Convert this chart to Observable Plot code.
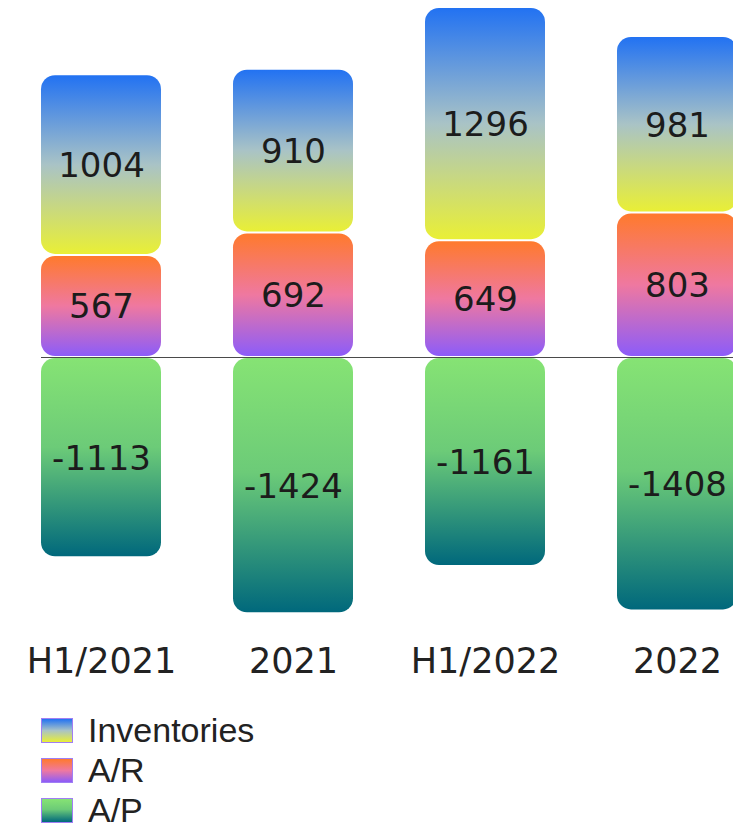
<!DOCTYPE html>
<html>
<head>
<meta charset="utf-8">
<script src="https://cdn.jsdelivr.net/npm/d3@7"></script>
<script src="https://cdn.jsdelivr.net/npm/@observablehq/plot@0.6"></script>
<style>
  html, body { margin: 0; padding: 0; background: #fff; }
  #chart { width: 733px; overflow: hidden; }
  .legend { margin: 10px 0 0 41px; font-family: "Liberation Sans", Arial, sans-serif; font-size: 34px; color: #222; }
  .legend .row { display: flex; align-items: center; height: 40px; }
  .legend .sw { width: 30px; height: 23px; border: 1.5px solid #a07ef4; margin-right: 15px; box-sizing: content-box; }
</style>
</head>
<body>
<div id="chart"></div>
<div class="legend" id="legend"></div>
<script>
// Periods on the x axis
const periods = ["H1/2021", "2021", "H1/2022", "2022"];
// Working-capital components (A/R stacked nearest zero, then inventories)
const seriesNames = ["A/R", "Inventories", "A/P"];
const arValues = [567, 692, 649, 803];
const inventoryValues = [1004, 910, 1296, 981];
const apValues = [-1113, -1424, -1161, -1408];
const legendOrder = ["Inventories", "A/R", "A/P"];

// Vertical gradients per component: [offset, color]
const gradients = {
  "Inventories": [[0, "#2272f2"], [0.5, "#a9c3c6"], [1, "#e9ef36"]],
  "A/R": [[0, "#ff7a2c"], [0.5, "#ef78a0"], [1, "#8c5cf9"]],
  "A/P": [[0, "#86e374"], [0.45, "#6ccb78"], [1, "#00687c"]]
};
const gradId = {"Inventories": "g-inv", "A/R": "g-ar", "A/P": "g-ap"};

const valuesBySeries = {"A/R": arValues, "Inventories": inventoryValues, "A/P": apValues};
const data = seriesNames.flatMap(s => periods.map((p, i) => ({period: p, series: s, value: valuesBySeries[s][i]})));

// <defs> with the gradient fills, rendered as a mark
function gradientDefs() {
  const ns = "http://www.w3.org/2000/svg";
  const defs = document.createElementNS(ns, "defs");
  for (const [name, stops] of Object.entries(gradients)) {
    const lg = document.createElementNS(ns, "linearGradient");
    lg.setAttribute("id", gradId[name]);
    lg.setAttribute("x1", "0"); lg.setAttribute("y1", "0");
    lg.setAttribute("x2", "0"); lg.setAttribute("y2", "1");
    for (const [o, c] of stops) {
      const st = document.createElementNS(ns, "stop");
      st.setAttribute("offset", o);
      st.setAttribute("stop-color", c);
      lg.appendChild(st);
    }
    defs.appendChild(lg);
  }
  return defs;
}

const chart = Plot.plot({
  width: 733,
  height: 700,
  marginTop: 6,
  marginBottom: 55,
  marginLeft: 41,
  marginRight: 0,
  style: {background: "transparent", overflow: "visible"},
  x: {domain: periods, range: [5, 773], paddingInner: 0.375, paddingOuter: 0.1875, label: null},
  y: {domain: [-1600, 1950], axis: null},
  color: {domain: seriesNames, range: seriesNames.map(s => `url(#${gradId[s]})`)},
  marks: [
    gradientDefs,
    Plot.barY(data, Plot.stackY({
      x: "period", y: "value", z: "series", fill: "series",
      insetTop: 1, insetBottom: 1, rx: 14
    })),
    Plot.ruleY([0], {stroke: "#4a4a4a", strokeWidth: 1}),
    Plot.text(data, Plot.stackY({
      x: "period", y: "value", z: "series", text: d => String(d.value),
      fontSize: 34, fill: "#1c1c1c", fontFamily: "DejaVu Sans", dy: 1
    })),
    Plot.axisX({tickSize: 0, tickPadding: 3, fontSize: 35, fontFamily: "DejaVu Sans", color: "#222", label: null})
  ]
});
document.getElementById("chart").appendChild(chart);

// Legend rows
const legend = document.getElementById("legend");
for (const name of legendOrder) {
  const row = document.createElement("div");
  row.className = "row";
  const sw = document.createElement("span");
  sw.className = "sw";
  sw.style.background = `linear-gradient(to bottom, ${gradients[name].map(([o, c]) => `${c} ${o * 100}%`).join(", ")})`;
  const label = document.createElement("span");
  label.textContent = name;
  row.appendChild(sw);
  row.appendChild(label);
  legend.appendChild(row);
}
</script>
</body>
</html>
